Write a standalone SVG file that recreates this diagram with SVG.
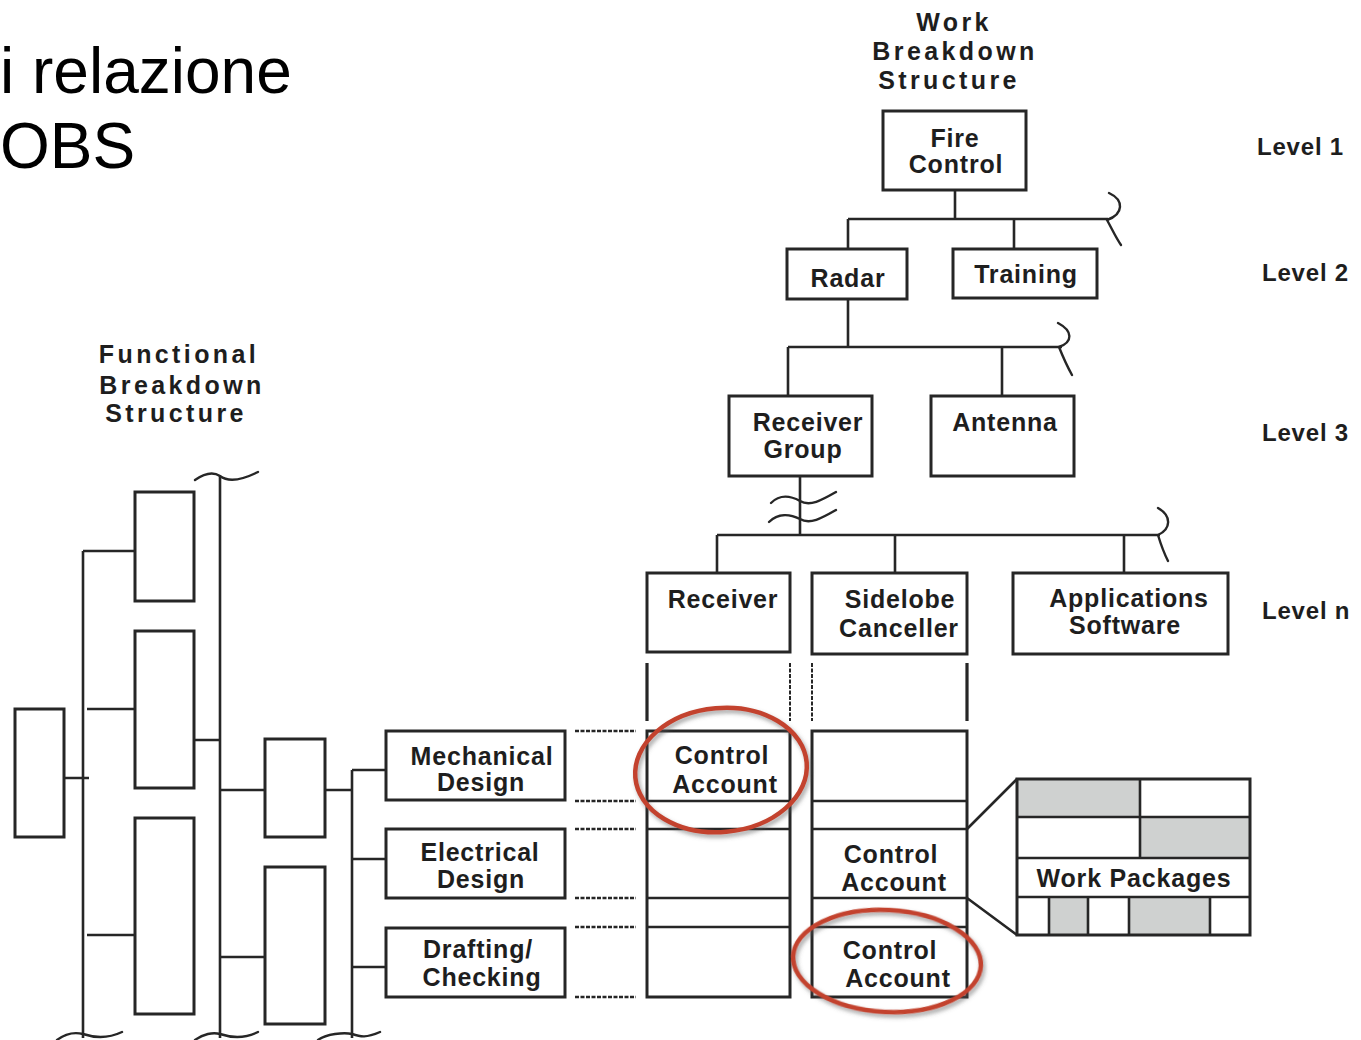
<svg xmlns="http://www.w3.org/2000/svg" width="1361" height="1040" viewBox="0 0 1361 1040">
<style>
.box{fill:none;stroke:#262626;stroke-width:3}
.ln{fill:none;stroke:#262626;stroke-width:2.6}
.sq{fill:none;stroke:#262626;stroke-width:2.4;stroke-linecap:round}
.dash{fill:none;stroke:#262626;stroke-width:2.4;stroke-dasharray:4 1.5}
.lbl{font-family:"Liberation Sans",Arial,sans-serif;font-weight:bold;font-size:25px;letter-spacing:0.8px;fill:#1e1e1e;text-anchor:middle}
.ttl{font-family:"Liberation Sans",Arial,sans-serif;font-weight:bold;font-size:25px;letter-spacing:3.4px;fill:#1e1e1e;text-anchor:middle}
.lvl{font-family:"Liberation Sans",Arial,sans-serif;font-weight:bold;font-size:24px;letter-spacing:0.8px;fill:#1e1e1e}
.big{font-family:"Liberation Sans",Arial,sans-serif;font-size:64px;fill:#000}
.red{fill:none;stroke:#c3432d;stroke-width:4.5}
.gray{fill:#cfd1d0}
</style>
<defs>
<filter id="sh" x="-20%" y="-20%" width="140%" height="140%">
<feDropShadow dx="2" dy="3" stdDeviation="2.2" flood-color="#555" flood-opacity="0.55"/>
</filter>
</defs>
<rect width="1361" height="1040" fill="#fff"/>

<g id="title">
<text class="big" x="0" y="93">i relazione</text>
<text class="big" x="0" y="168">OBS</text>
</g>

<g id="wbs-title">
<text class="ttl" x="954" y="31">Work</text>
<text class="ttl" x="955" y="60">Breakdown</text>
<text class="ttl" x="949" y="89">Structure</text>
</g>
<g id="fbs-title">
<text class="ttl" x="179" y="363">Functional</text>
<text class="ttl" x="182" y="394">Breakdown</text>
<text class="ttl" x="176" y="422">Structure</text>
</g>

<g id="levels">
<text class="lvl" x="1257" y="155">Level 1</text>
<text class="lvl" x="1262" y="281">Level 2</text>
<text class="lvl" x="1262" y="441">Level 3</text>
<text class="lvl" x="1262" y="619">Level n</text>
</g>

<g id="connectors">
<path class="ln" d="M955,190V219M848,219H1108M848,219V249M1014,219V249"/>
<path class="sq" d="M1109,193C1124,200 1124,214 1107,220C1112,229 1116,238 1121,245"/>
<path class="ln" d="M848,299V347M788,347H1062M788,347V396M1002,347V396"/>
<path class="sq" d="M1058,323C1073,331 1073,342 1059,347C1063,357 1067,366 1072,375"/>
<path class="ln" d="M800,476V535M717,535H1160M717,535V573M895,535V573M1124,535V573"/>
<path class="sq" d="M1158,508C1172,516 1171,529 1158,535C1161,545 1164,553 1168,561"/>
<path class="sq" d="M771,503C780,494 791,496 800,501C810,507 822,500 836,492"/>
<path class="sq" d="M769,522C778,513 790,514 800,519C810,525 822,518 836,510"/>
<path class="ln" d="M647,663V721M967,663V721" style="stroke-width:3.2"/>
<path class="dash" d="M790,663V721M812,663V721" style="stroke-width:2"/>
<path class="ln" d="M220,476V1038M83,551V1038M352,770V1038"/>
<path class="sq" d="M195,480C205,473 214,472 220,476C228,482 240,481 258,472"/>
<path class="sq" d="M57,1040C65,1034 75,1032 83,1034C92,1037 105,1040 122,1032"/>
<path class="sq" d="M195,1040C203,1034 213,1032 220,1034C229,1037 242,1040 258,1032"/>
<path class="sq" d="M318,1040C326,1034 344,1032 352,1034C361,1037 366,1038 380,1032"/>
<path class="ln" d="M83,551H135M87,709H135M87,935H135M64,778H89M194,740H220M220,790H265M220,957H265M352,770H386M352,859H386M352,967H386M325,790H352"/>
<path class="dash" d="M575,731H636M575,801H636M575,829H636M575,898H636M575,927H636M575,997H636"/>
<path class="ln" d="M967,829L1017,779M967,898L1017,935"/>
</g>

<g id="n-fire"><rect class="box" x="883" y="111" width="143" height="79"/><text class="lbl" x="955" y="147">Fire</text><text class="lbl" x="956" y="173">Control</text></g>
<g id="n-radar"><rect class="box" x="787" y="249" width="120" height="50"/><text class="lbl" x="848" y="287">Radar</text></g>
<g id="n-training"><rect class="box" x="953" y="249" width="144" height="49"/><text class="lbl" x="1026" y="283">Training</text></g>
<g id="n-recgroup"><rect class="box" x="729" y="396" width="143" height="80"/><text class="lbl" x="808" y="431">Receiver</text><text class="lbl" x="803" y="458">Group</text></g>
<g id="n-antenna"><rect class="box" x="931" y="396" width="143" height="80"/><text class="lbl" x="1005" y="431">Antenna</text></g>
<g id="n-receiver"><rect class="box" x="647" y="573" width="143" height="79"/><text class="lbl" x="723" y="608">Receiver</text></g>
<g id="n-sidelobe"><rect class="box" x="812" y="573" width="155" height="81"/><text class="lbl" x="900" y="608">Sidelobe</text><text class="lbl" x="899" y="637">Canceller</text></g>
<g id="n-apps"><rect class="box" x="1013" y="573" width="215" height="81"/><text class="lbl" x="1129" y="607">Applications</text><text class="lbl" x="1125" y="634">Software</text></g>

<g id="fbs-boxes">
<rect class="box" x="135" y="492" width="59" height="109"/>
<rect class="box" x="135" y="631" width="59" height="157"/>
<rect class="box" x="135" y="818" width="59" height="196"/>
<rect class="box" x="15" y="709" width="49" height="128"/>
<rect class="box" x="265" y="739" width="60" height="98"/>
<rect class="box" x="265" y="867" width="60" height="157"/>
</g>
<g id="n-mech"><rect class="box" x="386" y="731" width="179" height="69"/><text class="lbl" x="482" y="765">Mechanical</text><text class="lbl" x="481" y="791">Design</text></g>
<g id="n-elec"><rect class="box" x="386" y="829" width="179" height="69"/><text class="lbl" x="480" y="861">Electrical</text><text class="lbl" x="481" y="888">Design</text></g>
<g id="n-draft"><rect class="box" x="386" y="928" width="179" height="69"/><text class="lbl" x="478" y="958">Drafting/</text><text class="lbl" x="482" y="986">Checking</text></g>

<g id="grid-a">
<rect class="box" x="647" y="731" width="143" height="266"/>
<path class="ln" d="M647,801H790M647,829H790M647,898H790M647,927H790"/>
<text class="lbl" x="722" y="764">Control</text><text class="lbl" x="725" y="793">Account</text>
</g>
<g id="grid-b">
<rect class="box" x="812" y="731" width="155" height="266"/>
<path class="ln" d="M812,801H967M812,829H967M812,898H967M812,927H967"/>
<text class="lbl" x="891" y="863">Control</text><text class="lbl" x="894" y="891">Account</text>
<text class="lbl" x="890" y="959">Control</text><text class="lbl" x="898" y="987">Account</text>
</g>

<g id="n-workpackages">
<rect class="gray" x="1017" y="779" width="123" height="38"/>
<rect class="gray" x="1140" y="817" width="110" height="41"/>
<rect class="gray" x="1049" y="897" width="39" height="38"/>
<rect class="gray" x="1129" y="897" width="81" height="38"/>
<rect class="box" x="1017" y="779" width="233" height="156"/>
<path class="ln" d="M1017,817H1250M1017,858H1250M1017,897H1250M1140,779V858M1049,897V935M1088,897V935M1129,897V935M1210,897V935"/>
<text class="lbl" x="1134" y="887">Work Packages</text>
</g>

<g id="highlights" filter="url(#sh)">
<ellipse class="red" cx="721" cy="770" rx="86" ry="62" transform="rotate(-5 721 770)"/>
<ellipse class="red" cx="887" cy="961" rx="94" ry="51" transform="rotate(3 887 961)"/>
</g>
</svg>
